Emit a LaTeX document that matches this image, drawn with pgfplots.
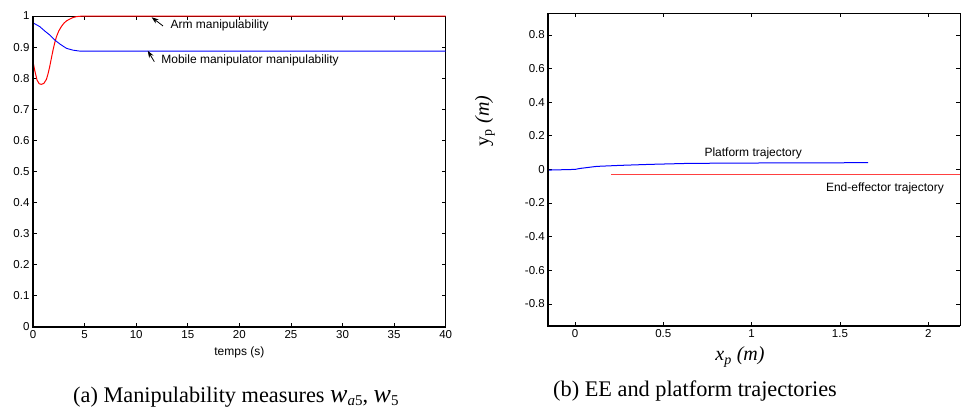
\documentclass[border=0pt]{standalone}
\usepackage{fontspec}
\setmainfont{Liberation Serif}
\setsansfont{Liberation Sans}
\usepackage{pgfplots}
\pgfplotsset{compat=1.18}
\usetikzlibrary{arrows.meta}

\begin{document}
\begin{tikzpicture}
\path[use as bounding box] (0pt,0pt) rectangle (961pt,-410pt);
\pgfplotsset{
 mystyle/.style={
  scale only axis,
  anchor=south west,
  clip=false,
  axis line style={line width=0.8pt},
  tick align=inside,
  major tick length=4pt,
  tick style={black, line width=0.6pt},
  every tick label/.append style={font=\sffamily\fontsize{11.5}{13}\selectfont},
  /pgf/number format/assume math mode=true,
  /pgf/number format/fixed,
 }
}
% ---------------- left panel ----------------
\begin{axis}[mystyle,
  at={(33pt,-326.7pt)}, width=412.7pt, height=310.7pt,
  xmin=0, xmax=40, ymin=0, ymax=1,
  xtick={0,5,10,15,20,25,30,35,40},
  ytick={0,0.1,0.2,0.3,0.4,0.5,0.6,0.7,0.8,0.9,1},
  xlabel={temps (s)},
  xlabel style={font=\sffamily\fontsize{12}{14}\selectfont, at={(axis description cs:0.5,0)}, anchor=center, yshift=-26pt},
]
\addplot[red, line width=1pt] coordinates {
(0,0.853) (0.16,0.826) (0.39,0.794) (0.6,0.782) (0.81,0.780) (1.05,0.783)
(1.3,0.796) (1.45,0.813) (1.62,0.837) (1.78,0.864) (1.94,0.890) (2.1,0.913) (2.27,0.933)
(2.5,0.952) (2.75,0.966) (3.0,0.977) (3.24,0.984) (3.55,0.990) (3.88,0.995) (4.2,0.998) (4.5,0.999) (5,1.0) (40,1.0)};
\addplot[blue, line width=0.9pt] coordinates {
(0,0.978) (0.65,0.966) (1.13,0.952) (1.62,0.939) (2.1,0.923) (2.6,0.910)
(3.24,0.896) (3.88,0.890) (4.53,0.887) (40,0.887)};
\draw[line width=1.8pt] (rel axis cs:0,1) -- (rel axis cs:0,0) -- (rel axis cs:1,0);
\draw[-{Stealth[length=7pt,width=5pt]}, line width=0.8pt] (axis cs:12.6,0.968) -- (axis cs:11.5,0.996);
\node[anchor=west, font=\sffamily\fontsize{12}{14}\selectfont] at (axis cs:13.0,0.971) {Arm manipulability};
\draw[-{Stealth[length=7pt,width=5pt]}, line width=0.8pt] (axis cs:11.76,0.853) -- (axis cs:11.12,0.888);
\node[anchor=west, font=\sffamily\fontsize{12}{14}\selectfont] at (axis cs:12.1,0.858) {Mobile manipulator manipulability};
\end{axis}
% ---------------- right panel ----------------
\begin{axis}[mystyle,
  at={(548.3pt,-325.7pt)}, width=411.7pt, height=312.6pt,
  xmin=-0.151, xmax=2.18, ymin=-0.93, ymax=0.93,
  xtick={0,0.5,1,1.5,2},
  ytick={-0.8,-0.6,-0.4,-0.2,0,0.2,0.4,0.6,0.8},
  xlabel={\textit{x}\textsubscript{\textit{p}} \textit{(m)}},
  xlabel style={font=\fontsize{20}{22}\selectfont, at={(axis description cs:0.4656,0)}, anchor=center, yshift=-31.3pt},
  ylabel={y\textsubscript{p} \textit{(m)}},
  ylabel style={font=\fontsize{20}{22}\selectfont, at={(axis description cs:-0.1538,0.655)}, anchor=center},
]
\addplot[blue, line width=1pt] coordinates {
(-0.151,-0.004) (0.0,0.0) (0.03,0.006) (0.123,0.018) (0.255,0.024) (0.425,0.030)
(0.65,0.036) (1.0,0.038) (1.3,0.039) (1.66,0.040)};
\addplot[red!75, line width=1pt] coordinates {(0.204,-0.030) (2.18,-0.030)};
\draw[line width=1.8pt] (rel axis cs:0,1) -- (rel axis cs:0,0) -- (rel axis cs:1,0);
\node[font=\sffamily\fontsize{12}{14}\selectfont] at (axis cs:1.009,0.097) {Platform trajectory};
\node[font=\sffamily\fontsize{12}{14}\selectfont] at (axis cs:1.755,-0.111) {End-effector trajectory};
\end{axis}
% ---------------- captions ----------------
\node[anchor=base west, inner sep=0pt, font=\fontsize{22.3}{24}\selectfont] at (73pt,-402pt) {(a) Manipulability measures {\fontsize{26}{28}\selectfont\textit{w}\raisebox{-3pt}{\fontsize{15}{17}\selectfont\textit{a}5}}, {\fontsize{26}{28}\selectfont\textit{w}\raisebox{-3pt}{\fontsize{15}{17}\selectfont 5}}};
\node[anchor=base west, inner sep=0pt, font=\fontsize{22.3}{24}\selectfont] at (553pt,-396pt) {(b) EE and platform trajectories};
\end{tikzpicture}
\end{document}
